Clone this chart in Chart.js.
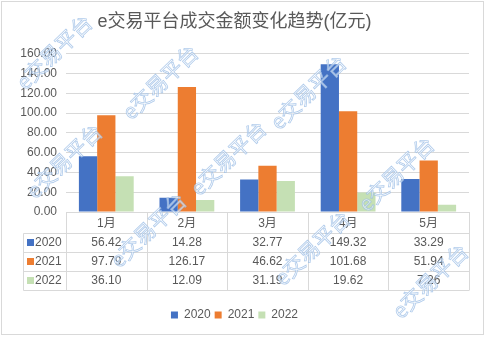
<!DOCTYPE html>
<html>
<head>
<meta charset="utf-8">
<script src="https://cdn.jsdelivr.net/npm/chart.js@4.4.0/dist/chart.umd.min.js"></script>
<style>
  html, body { margin: 0; padding: 0; background: #fff; }
</style>
</head>
<body>
<canvas id="chart" width="485" height="337"></canvas>
<script>
const months = ["1月", "2月", "3月", "4月", "5月"];
const years = ["2020", "2021", "2022"];
const v2020 = [56.42, 14.28, 32.77, 149.32, 33.29];
const v2021 = [97.79, 126.17, 46.62, 101.68, 51.94];
const v2022 = [36.10, 12.09, 31.19, 19.62, 7.26];
const colors = ["#4472C4", "#ED7D31", "#C5E0B4"];

const FONT = '"Liberation Sans", Arial, "Noto Sans CJK SC", sans-serif';
const TEXT = "#595959";
const LINE = "#d9d9d9";

// watermark centres (rough)
const marks = [[54, 52], [160, 82], [64, 161], [228, 158], [308, 92], [396, 174], [312, 248], [148, 230], [430, 281]];

const series = [v2020, v2021, v2022];

const frame = {
  id: "frame",
  beforeDraw(chart) {
    const ctx = chart.ctx;
    ctx.save();
    ctx.fillStyle = "#fff";
    ctx.fillRect(0, 0, chart.width, chart.height);
    ctx.strokeStyle = LINE;
    ctx.lineWidth = 1;
    ctx.strokeRect(1.5, 1.5, 482, 333);
    ctx.restore();
  }
};

// data table under the bars
const table = {
  id: "table",
  afterDraw(chart) {
    const ctx = chart.ctx;
    const area = chart.chartArea;
    const x = chart.scales.x;
    const top = area.bottom;
    const catH = 20.5, rowH = 19;
    const labelLeft = 23.5;
    const bottom = top + catH + rowH * 3;
    const step = (area.right - area.left) / months.length;

    ctx.save();
    ctx.strokeStyle = LINE;
    ctx.lineWidth = 1;
    ctx.beginPath();
    ctx.moveTo(area.left, Math.round(top) + 0.5);
    ctx.lineTo(area.right, Math.round(top) + 0.5);
    for (let r = 0; r <= 3; r++) {
      const y = Math.round(top + catH + rowH * r) + 0.5;
      ctx.moveTo(labelLeft, y);
      ctx.lineTo(area.right, y);
    }
    ctx.moveTo(labelLeft, Math.round(top + catH) + 0.5);
    ctx.lineTo(labelLeft, Math.round(bottom) + 0.5);
    for (let i = 0; i <= months.length; i++) {
      const xx = Math.round(area.left + step * i) + 0.5;
      ctx.moveTo(xx, top);
      ctx.lineTo(xx, Math.round(bottom) + 0.5);
    }
    ctx.stroke();

    ctx.fillStyle = TEXT;
    ctx.font = "12px " + FONT;
    ctx.textAlign = "center";
    ctx.textBaseline = "middle";
    months.forEach((m, i) => {
      ctx.fillText(m, x.getPixelForValue(i), top + catH / 2 + 1);
    });
    series.forEach((vals, r) => {
      const cy = top + catH + rowH * r + rowH / 2 + 1;
      ctx.textAlign = "center";
      ctx.fillStyle = TEXT;
      vals.forEach((v, i) => {
        ctx.fillText(v.toFixed(2), x.getPixelForValue(i), cy);
      });
      ctx.fillStyle = colors[r];
      ctx.fillRect(27, Math.round(cy - 4), 7, 7);
      ctx.fillStyle = TEXT;
      ctx.textAlign = "left";
      ctx.fillText(years[r], 35, cy);
    });
    ctx.restore();
  }
};

const watermark = {
  id: "watermark",
  afterDraw(chart) {
    const ctx = chart.ctx;
    ctx.save();
    ctx.font = '21px "Noto Sans CJK SC", sans-serif';
    ctx.textAlign = "center";
    ctx.textBaseline = "middle";
    ctx.lineWidth = 0.8;
    ctx.strokeStyle = "rgba(150,186,228,0.75)";
    ctx.fillStyle = "rgba(255,255,255,0.6)";
    marks.forEach(([mx, my]) => {
      ctx.save();
      ctx.translate(mx, my);
      ctx.rotate(-44 * Math.PI / 180);
      ctx.fillText("e交易平台", 0, 0);
      ctx.strokeText("e交易平台", 0, 0);
      ctx.restore();
    });
    ctx.restore();
  }
};

new Chart(document.getElementById("chart"), {
  type: "bar",
  data: {
    labels: months,
    datasets: years.map((y, i) => ({
      label: y,
      data: series[i],
      backgroundColor: colors[i],
      categoryPercentage: 0.68,
      barPercentage: 1
    }))
  },
  options: {
    responsive: false,
    animation: false,
    devicePixelRatio: 1,
    layout: { padding: { left: 0, right: 16, top: 0, bottom: 6 } },
    plugins: {
      title: {
        display: true,
        text: "e交易平台成交金额变化趋势(亿元)",
        color: TEXT,
        font: { family: FONT, size: 18, weight: "normal" },
        padding: { top: 11, bottom: 21 }
      },
      legend: {
        position: "bottom",
        labels: {
          boxWidth: 7,
          boxHeight: 7,
          padding: 4,
          color: TEXT,
          font: { family: FONT, size: 12 }
        }
      },
      tooltip: { enabled: false }
    },
    scales: {
      x: {
        grid: { display: false },
        border: { display: false },
        ticks: { display: false },
        afterFit(scale) { scale.height = 93; }
      },
      y: {
        min: 0,
        max: 160,
        ticks: {
          stepSize: 20,
          padding: 9,
          color: TEXT,
          font: { family: FONT, size: 12 },
          callback: v => v.toFixed(2)
        },
        grid: { color: LINE, drawTicks: false },
        border: { display: false },
        afterFit(scale) { scale.width = 66; }
      }
    }
  },
  plugins: [frame, table, watermark]
});
</script>
</body>
</html>
